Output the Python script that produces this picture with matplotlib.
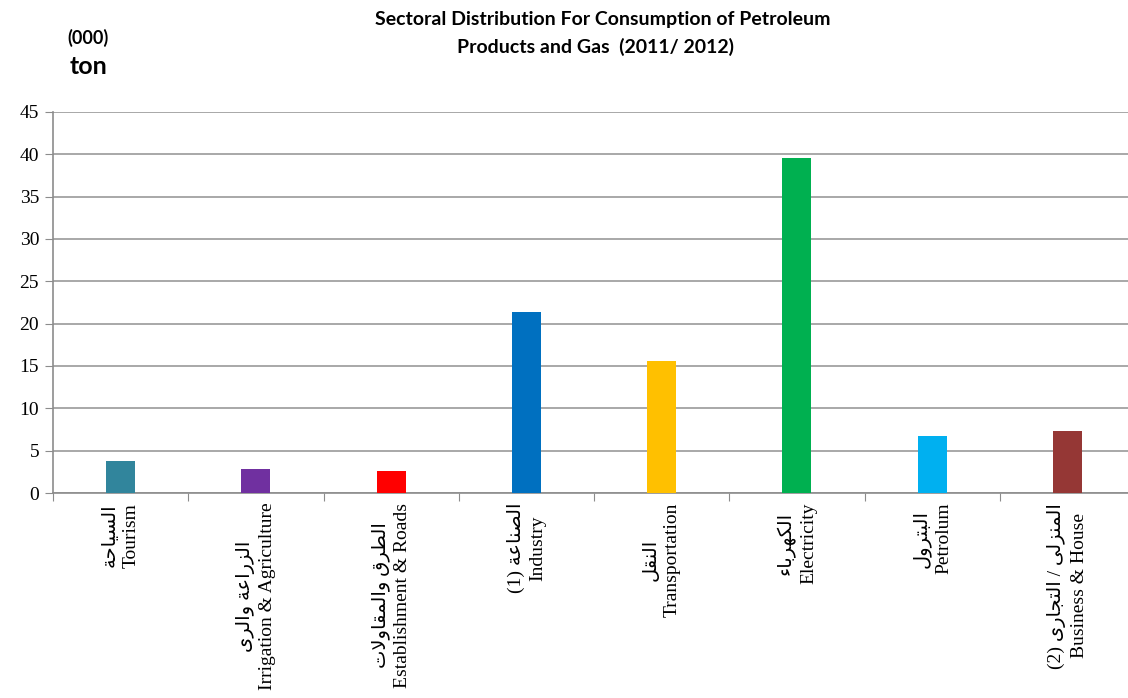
"""Sectoral distribution of petroleum products and gas consumption 2011/2012."""
import matplotlib

matplotlib.use("Agg")
from matplotlib import pyplot as plt

# Presentation forms: first code point (isolated) and number of forms.
FORMS = {
    "ء": (0xFE80, 1), "ا": (0xFE8D, 2), "ب": (0xFE8F, 4), "ة": (0xFE93, 2),
    "ت": (0xFE95, 4), "ج": (0xFE9D, 4), "ح": (0xFEA1, 4), "ر": (0xFEAD, 2),
    "ز": (0xFEAF, 2), "س": (0xFEB1, 4), "ص": (0xFEB9, 4), "ط": (0xFEC1, 4),
    "ع": (0xFEC9, 4), "ق": (0xFED5, 4), "ك": (0xFED9, 4), "ل": (0xFEDD, 4),
    "م": (0xFEE1, 4), "ن": (0xFEE5, 4), "ه": (0xFEE9, 4), "و": (0xFEED, 2),
    "ى": (0xFEEF, 2), "ي": (0xFEF1, 4),
}
LAM_ALEF = "\ufefb"


def dual(ch: str) -> bool:
    """Letter joins on both sides."""
    return ch in FORMS and FORMS[ch][1] == 4


def arabic(text: str) -> str:
    """Shape Arabic text and put it in visual (left to right) order."""
    text = text.replace("لا", LAM_ALEF)
    glyphs = []
    for i, ch in enumerate(text):
        prev = text[i - 1] if i else ""
        nxt = text[i + 1] if i + 1 < len(text) else ""
        if ch == LAM_ALEF:
            glyphs.append("\ufefc" if dual(prev) else ch)
            continue
        if ch not in FORMS:
            glyphs.append(ch)
            continue
        base, n = FORMS[ch]
        after = n > 1 and dual(prev)
        before = n == 4 and (nxt in FORMS and FORMS[nxt][1] > 1 or nxt == LAM_ALEF)
        glyphs.append(chr(base + {(0, 0): 0, (1, 0): 1, (0, 1): 2, (1, 1): 3}[(after, before)]))
    return "".join(reversed(glyphs)).translate(str.maketrans("()", ")("))


sectors_ar = [
    "السياحة",
    "الزراعة والرى",
    "الطرق والمقاولات",
    "الصناعة (1)",
    "النقل",
    "الكهرباء",
    "البترول",
    "المنزلى / التجارى (2)",
]
sectors_en = [
    "Tourism",
    "Irrigation & Agriculture",
    "Establishment & Roads",
    "Industry",
    "Transportation",
    "Electricity",
    "Petrolum",
    "Business & House",
]
consumption = [3.8, 2.85, 2.6, 21.4, 15.6, 39.55, 6.75, 7.3]
colors = ["#31859C", "#7030A0", "#FF0000", "#0070C0", "#FFC000", "#00B050", "#00B0F0", "#953735"]

fig = plt.figure(figsize=(11.28, 6.98), dpi=100)
ax = fig.add_axes([53 / 1128, 205 / 698, 1082 / 1128, 381 / 698])

x = list(range(len(consumption)))
ax.bar(x, consumption, width=0.215, color=colors, zorder=3)

ax.set_xlim(-0.5, len(consumption) - 0.5)
ax.set_ylim(0, 45)
ax.set_yticks(range(0, 46, 5))
ax.yaxis.grid(True, color="#9a9a9a", linewidth=1.2, zorder=0)

grey = "#8c8c8c"
for side in ("top", "right"):
    ax.spines[side].set_visible(False)
for side in ("left", "bottom"):
    ax.spines[side].set_color(grey)
    ax.spines[side].set_linewidth(1.2)

ax.set_xticks([i - 0.5 for i in x] + [len(x) - 0.5])
ax.set_xticks(x, minor=True)
ax.tick_params(axis="x", which="major", length=6, color=grey, labelbottom=False)
ax.tick_params(axis="x", which="minor", length=0, pad=7)
ax.set_xticklabels(
    [arabic(a) + "\n" + e for a, e in zip(sectors_ar, sectors_en)],
    minor=True,
    rotation=90,
    va="top",
    ha="center",
    multialignment="center",
    family=["Liberation Serif", "DejaVu Sans"],
    fontsize=14,
    linespacing=1.35,
)
ax.tick_params(axis="y", length=6, color=grey, labelsize=14, pad=4)
for lbl in ax.get_yticklabels():
    lbl.set_family("Liberation Serif")

fig.text(603 / 1128, 1 - 19 / 698, "Sectoral Distribution For Consumption of Petroleum",
         ha="center", va="center", fontsize=14, fontweight="bold", family="Lato")
fig.text(595 / 1128, 1 - 47 / 698, "Products and Gas  (2011/ 2012)",
         ha="center", va="center", fontsize=14, fontweight="bold", family="Lato")
fig.text(88 / 1128, 1 - 38 / 698, "(000)", ha="center", va="center",
         fontsize=13, fontweight="bold", family="Lato")
fig.text(88 / 1128, 1 - 67 / 698, "ton", ha="center", va="center",
         fontsize=18, fontweight="bold", family="Lato")

fig.savefig("out.png", dpi=100)
